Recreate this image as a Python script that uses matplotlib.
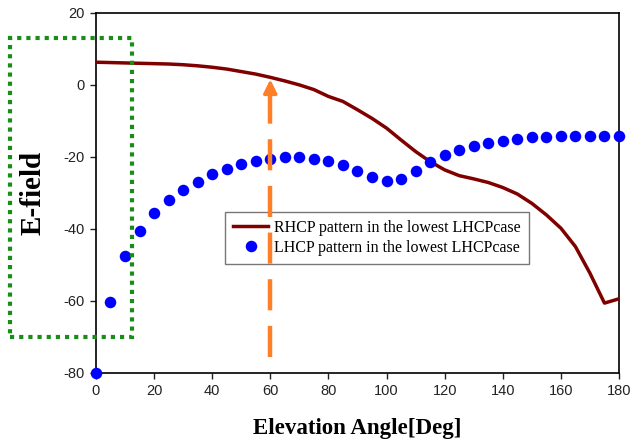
import matplotlib
matplotlib.use('Agg')
import matplotlib.pyplot as plt
import numpy as np
from matplotlib.patches import Rectangle

plt.rcParams['axes.unicode_minus'] = False

# elevation angle [deg]
angles = [0, 5, 10, 15, 20, 25, 30, 35, 40, 45, 50, 55, 60, 65, 70, 75, 80, 85, 90,
          95, 100, 105, 110, 115, 120, 125, 130, 135, 140, 145, 150, 155, 160, 165,
          170, 175, 180]

# RHCP (line)
rhcp = [6.3, 6.2, 6.1, 6.0, 5.9, 5.8, 5.6, 5.3, 4.9, 4.4, 3.7, 3.0, 2.1, 1.1, 0.0,
        -1.3, -3.2, -4.6, -6.9, -9.3, -12.0, -15.3, -18.5, -21.3, -23.6, -25.2,
        -26.1, -27.1, -28.5, -30.3, -32.9, -36.1, -39.8, -44.9, -52.3, -60.6, -59.4]

# LHCP (dots)
lhcp = [-80.0, -60.2, -47.6, -40.7, -35.6, -32.0, -29.2, -26.9, -24.7, -23.3, -22.0,
        -21.1, -20.5, -20.1, -20.0, -20.5, -21.2, -22.2, -23.8, -25.7, -26.8, -26.1,
        -23.8, -21.5, -19.6, -18.2, -17.1, -16.2, -15.5, -15.0, -14.6, -14.4, -14.3,
        -14.3, -14.2, -14.2, -14.2]

arrow_x = 60

fig = plt.figure(figsize=(6.31, 4.44), dpi=100)
ax = fig.add_axes([0.152, 0.16, 0.829, 0.811])

ax.plot(angles, rhcp, color='#800000', lw=2.5, label='RHCP pattern in the lowest LHCPcase', zorder=3)
ax.plot(angles, lhcp, 'o', color='#0000ff', ms=8.3, mec='none', label='LHCP pattern in the lowest LHCPcase',
        clip_on=False, zorder=4)

ax.set_xlim(0, 180)
ax.set_ylim(-80, 20)
ax.set_xticks(np.arange(0, 181, 20))
ax.set_yticks(np.arange(-80, 21, 20))
ax.tick_params(direction='out', length=4, width=1, labelsize=10.5, pad=4, colors='#222222')
for lab in ax.get_xticklabels() + ax.get_yticklabels():
    lab.set_family('Liberation Sans')
for s in ax.spines.values():
    s.set_linewidth(1.2)
    s.set_color('black')

ax.set_xlabel('Elevation Angle[Deg]', family='Liberation Serif', fontweight='bold', fontsize=16.5)
ax.set_ylabel('E-field', family='Liberation Serif', fontweight='bold', fontsize=21)
ax.xaxis.set_label_coords(0.5, -0.125)
ax.yaxis.set_label_coords(-0.095, 0.5)

leg = ax.legend(loc='upper left', bbox_to_anchor=(0.2467, 0.4472), frameon=True, fancybox=False,
                prop={'family': 'Liberation Serif', 'size': 11.5}, handlelength=2.2,
                borderpad=0.5, labelspacing=0.25, handletextpad=0.4, borderaxespad=0)
leg.get_frame().set_edgecolor('#555555')
leg.get_frame().set_linewidth(1.0)
leg.set_zorder(5)

# orange dashed arrow at 60 deg
ax.plot([arrow_x, arrow_x], [-75.5, -1.0], color='#ff7f27', lw=3.2, ls=(0, (7, 3.5)), zorder=6)
ax.annotate('', xy=(arrow_x, 2.3), xytext=(arrow_x, -1.5),
            arrowprops=dict(arrowstyle='-|>,head_length=0.8,head_width=0.4', color='#ff7f27', lw=2.5),
            zorder=6)

# green dotted box around y-axis region
rect = Rectangle((-29.6, -70.0), 42.0, 83.1, fill=False, edgecolor='#1a8c1a', lw=3,
                 ls=(0, (1, 1.2)), clip_on=False, zorder=7)
ax.add_patch(rect)

plt.savefig('out.png', dpi=100)
